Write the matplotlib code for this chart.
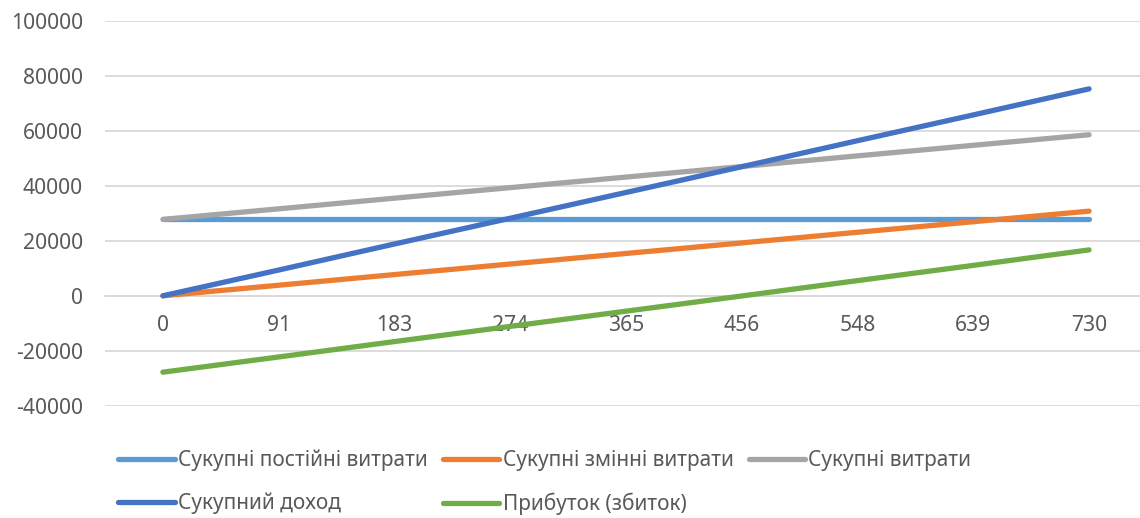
import matplotlib as mpl
mpl.use('agg')
import matplotlib.pyplot as plt

plt.rcParams['font.family'] = ['Noto Sans', 'DejaVu Sans']
plt.rcParams['axes.unicode_minus'] = False

days = ['0', '91', '183', '274', '365', '456', '548', '639', '730']
fixed_costs = [27800, 27800, 27800, 27800, 27800, 27800, 27800, 27800, 27800]
variable_costs = [0, 3840, 7720, 11560, 15400, 19240, 23120, 26960, 30800]
total_costs = [27800, 31640, 35520, 39360, 43200, 47040, 50920, 54760, 58600]
revenue = [0, 9370, 18850, 28220, 37600, 46970, 56440, 65820, 75300]
profit = [-27800, -22270, -16670, -11140, -5600, -70, 5520, 11060, 16700]

names = ['Сукупні постійні витрати', 'Сукупні змінні витрати', 'Сукупні витрати',
         'Сукупний доход', 'Прибуток (збиток)']
colors = ['#5B9BD5', '#ED7D31', '#A5A5A5', '#4472C4', '#70AD47']
series = [fixed_costs, variable_costs, total_costs, revenue, profit]

text_col = '#595959'
grid_col = '#D9D9D9'

fig = plt.figure(figsize=(11.4, 5.18), dpi=100)
ax = fig.add_axes([105 / 1140, 1 - 405.7 / 518, 1035 / 1140, (405.7 - 21) / 518])

x = list(range(len(days)))
lines = []
for vals, name, col in zip(series, names, colors):
    ln, = ax.plot(x, vals, color=col, lw=3.8, solid_capstyle='round', label=name, zorder=3)
    lines.append(ln)

ax.set_ylim(-40000, 100000)
ax.set_yticks(range(-40000, 100001, 20000))
ax.set_xlim(-0.5, 8.44)
ax.set_xticks(x)
ax.set_xticklabels(days)
ax.yaxis.grid(True, color=grid_col, lw=1.3, zorder=0)
ax.set_axisbelow(True)

for s in ['top', 'right', 'left']:
    ax.spines[s].set_visible(False)
ax.spines['bottom'].set_position(('data', 0))
ax.spines['bottom'].set_color(grid_col)
ax.spines['bottom'].set_linewidth(1.3)
ax.tick_params(axis='both', length=0, labelsize=15.2, labelcolor=text_col)
ax.tick_params(axis='x', pad=14)
ax.tick_params(axis='y', pad=16)

# порядок для заповнення рядками, як у Excel
order = [0, 3, 1, 4, 2]
leg = fig.legend([lines[i] for i in order], [names[i] for i in order],
                 loc='center', bbox_to_anchor=(545 / 1140, 1 - 482.5 / 518), ncol=3,
                 frameon=False, fontsize=15, handlelength=2.7, handletextpad=0.15,
                 columnspacing=0.75, labelspacing=1.05, labelcolor=text_col)

fig.savefig('out.png', dpi=100)
